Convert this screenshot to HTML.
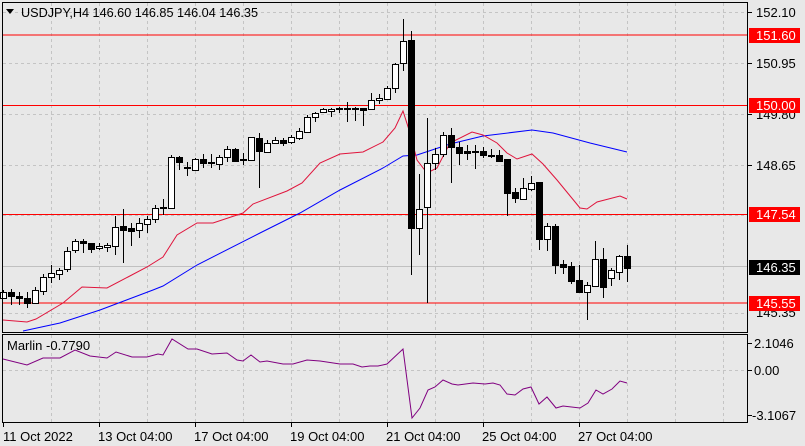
<!DOCTYPE html>
<html><head><meta charset="utf-8"><style>
html,body{margin:0;padding:0;background:#e8e8e8;}
svg{display:block;font-family:"Liberation Sans",sans-serif;}
</style></head><body>
<svg id="s" width="805" height="446" viewBox="0 0 805 446" xmlns="http://www.w3.org/2000/svg">
<rect width="805" height="446" fill="#e8e8e8"/>
<g id="grid" stroke="#c4c4c4" stroke-dasharray="3,3" stroke-width="1"></g>
<line x1="3" y1="266.5" x2="747" y2="266.5" stroke="#c0c0c0"/>
<g stroke="#ff0000" stroke-width="1">
<line x1="3" y1="35" x2="747" y2="35"/>
<line x1="3" y1="105.5" x2="747" y2="105.5"/>
<line x1="3" y1="214.5" x2="747" y2="214.5"/>
<line x1="3" y1="303" x2="747" y2="303"/>
</g>
<polyline fill="none" stroke="#0000ff" stroke-width="1" points="23,331 60,323 100,310 153,290 163,286 197,265 260,233 300,213 340,190 383,168 403,156 417,155 450,144 483,136 532,130 553,133 590,143 627,152"/>
<polyline fill="none" stroke="#e0143c" stroke-width="1" points="3,320 27,322 36,319 63,303 82,287 107,288 147,267 163,257 177,235 197,223 213,223 243,213 253,204 287,191 302,183 320,163 340,154 363,152 383,142 395,128 403,111 410,133 417,160 427,173 437,168 450,143 472,132 483,135 497,143 507,153 517,159 532,154 543,164 557,180 580,208 587,209 597,202 620,196 627,199"/>
<g id="candles"></g>
<polyline fill="none" stroke="#800080" stroke-width="1" points="3,359 27,365 43,358 60,358 75,350 90,356 107,358 116,352 132,357 147,357 158,354 163,355 172,339 188,349 197,349 212,354 227,353 237,360 243,361 251,355 260,362 267,361 283,364 293,364 307,360 320,361 340,364 353,364 362,367 370,366 378,366 387,364 403,349 412,418 420,408 428,390 435,387 443,380 452,384 458,385 473,383 485,384 493,383 500,385 507,394 515,395 523,389 531,387 539,404 547,397 556,408 563,406 580,408 588,403 596,390 603,394 612,389 620,381 627,383"/>
<rect x="2.5" y="2.5" width="745" height="330" fill="none" stroke="#000"/>
<rect x="2.5" y="334.5" width="745" height="88" fill="none" stroke="#000"/>
<g stroke="#000">
<line x1="3.5" y1="423" x2="3.5" y2="427"/><line x1="99.5" y1="423" x2="99.5" y2="427"/><line x1="195.5" y1="423" x2="195.5" y2="427"/><line x1="291.5" y1="423" x2="291.5" y2="427"/><line x1="387.5" y1="423" x2="387.5" y2="427"/><line x1="483.5" y1="423" x2="483.5" y2="427"/><line x1="579.5" y1="423" x2="579.5" y2="427"/>
<line x1="748" y1="12.5" x2="752" y2="12.5"/><line x1="748" y1="63.5" x2="752" y2="63.5"/><line x1="748" y1="114.5" x2="752" y2="114.5"/><line x1="748" y1="165.5" x2="752" y2="165.5"/><line x1="748" y1="343.5" x2="752" y2="343.5"/><line x1="748" y1="370.5" x2="752" y2="370.5"/><line x1="748" y1="415.5" x2="752" y2="415.5"/>
</g>
<g font-size="13" fill="#000">
<text x="756" y="17">152.10</text>
<text x="756" y="68">150.95</text>
<text x="756" y="119">149.80</text>
<text x="756" y="170">148.65</text>
<text x="756" y="317">145.35</text>
<text x="754" y="348">2.1046</text>
<text x="754" y="375">0.00</text>
<text x="752" y="420">-3.1067</text>
<text x="3" y="441">11 Oct 2022</text>
<text x="98" y="441">13 Oct 04:00</text>
<text x="194" y="441">17 Oct 04:00</text>
<text x="290" y="441">19 Oct 04:00</text>
<text x="386" y="441">21 Oct 04:00</text>
<text x="482" y="441">25 Oct 04:00</text>
<text x="578" y="441">27 Oct 04:00</text>
<text x="21" y="17" textLength="237" lengthAdjust="spacingAndGlyphs">USDJPY,H4  146.60 146.85 146.04 146.35</text>
<text x="7" y="350">Marlin -0.7790</text>
</g>
<polygon points="6,9 14,9 10,14" fill="#000"/>
<g font-size="13">
<rect x="749" y="28" width="51" height="15" fill="#ff0000"/><text x="756" y="40" fill="#fff">151.60</text>
<rect x="749" y="98" width="51" height="15" fill="#ff0000"/><text x="756" y="110" fill="#fff">150.00</text>
<rect x="749" y="207" width="51" height="15" fill="#ff0000"/><text x="756" y="219" fill="#fff">147.54</text>
<rect x="749" y="260" width="51" height="15" fill="#000"/><text x="756" y="272" fill="#fff">146.35</text>
<rect x="749" y="296" width="51" height="15" fill="#ff0000"/><text x="756" y="308" fill="#fff">145.55</text>
</g>
</svg>
<script>
var NS="http://www.w3.org/2000/svg";
var g=document.getElementById("grid");
function ln(p,a){var e=document.createElementNS(NS,"line");for(var k in a)e.setAttribute(k,a[k]);p.appendChild(e);return e;}
for(var x=51.5;x<747;x+=48){ln(g,{x1:x,y1:3,x2:x,y2:332});ln(g,{x1:x,y1:335,x2:x,y2:422});}
[12.5,63.5,114.5,165.5,215.5,313.5].forEach(function(y){ln(g,{x1:3,y1:y,x2:747,y2:y});});
ln(g,{x1:3,y1:370.5,x2:747,y2:370.5});
var C=[[292,298,290,299,1],[292,296,289,305,0],[296,298,292,305,0],[298,303,292,308,0],[290,303,287,303,1],[277,291,274,295,1],[273,277,265,283,1],[270,274,268,280,1],[251,269,247,272,1],[241,250,239,253,1],[241,243,239,253,0],[243,249,243,253,0],[246,248,243,250,1],[245,247,243,252,1],[227,246,216,255,1],[226,230,209,263,0],[228,231,223,246,0],[223,230,218,238,1],[219,224,216,233,1],[208,219,205,223,1],[207,208,199,215,1],[157,208,155,209,1],[157,162,156,170,0],[167,168,162,176,1],[159,170,158,171,1],[159,163,154,168,0],[162,163,154,168,0],[157,164,155,170,1],[149,157,146,162,1],[149,161,148,162,0],[159,160,153,165,0],[137,160,137,160,1],[138,151,133,188,0],[143,152,140,153,1],[140,143,137,144,1],[140,143,138,146,0],[137,142,135,144,1],[131,138,128,140,1],[117,132,115,133,1],[113,117,112,122,1],[109,112,108,113,1],[109,111,108,117,1],[108,109,107,113,0],[108,109,102,122,0],[108,109,107,121,0],[108,110,108,126,0],[100,109,93,110,1],[98,100,94,104,1],[88,99,86,100,1],[64,88,63,93,1],[41,63,19,71,1],[40,228,31,275,0],[209,228,174,255,1],[163,207,118,303,1],[154,163,148,170,1],[135,154,132,157,1],[135,147,128,183,0],[147,153,142,165,0],[151,153,145,160,0],[151,152,145,169,0],[151,155,147,158,0],[155,156,149,158,0],[155,161,150,162,0],[159,193,159,216,0],[192,198,188,203,0],[188,199,178,200,1],[183,189,176,191,1],[182,239,182,250,0],[226,239,223,251,1],[226,265,224,274,0],[264,267,260,274,0],[266,281,262,284,0],[280,292,265,293,0],[285,292,282,320,1],[259,286,241,287,1],[259,287,248,298,0],[270,278,268,286,1],[256,272,255,280,1],[256,268,245,282,0]];
var cg=document.getElementById("candles");
C.forEach(function(c,i){var x=Math.round(3+8*i)+0.5;
ln(cg,{x1:x,y1:c[2],x2:x,y2:c[3],stroke:"#000"});
var r=document.createElementNS(NS,"rect");var h=Math.max(c[1]-c[0],1);
r.setAttribute("x",x-3);r.setAttribute("y",c[0]+0.5);r.setAttribute("width",6);r.setAttribute("height",h);
r.setAttribute("fill",c[4]?"#fff":"#000");r.setAttribute("stroke","#000");cg.appendChild(r);});
</script>
</body></html>
